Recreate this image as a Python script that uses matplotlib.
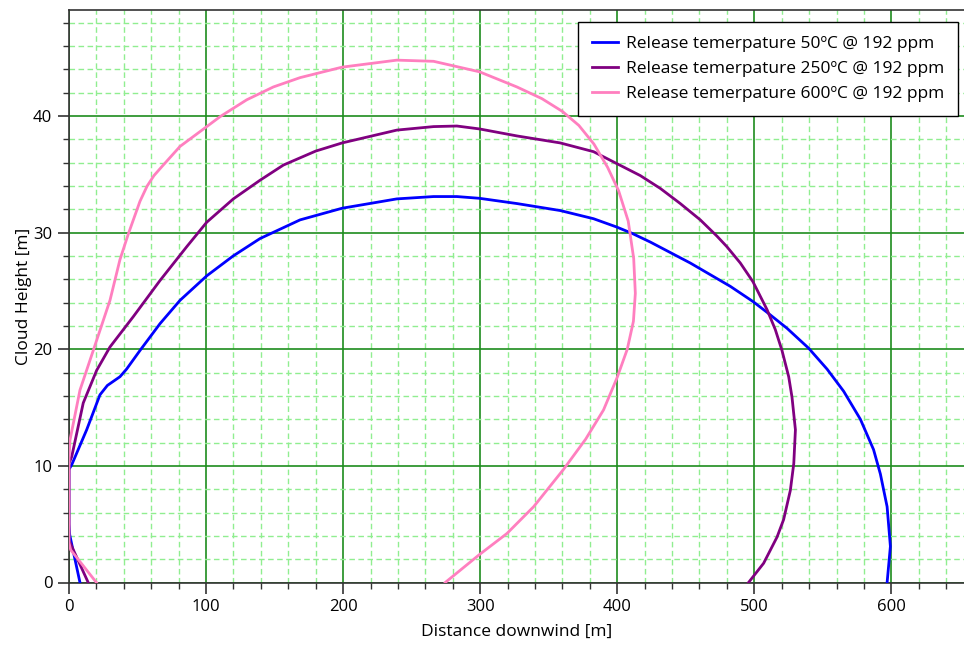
import matplotlib
matplotlib.use('Agg')
import matplotlib.pyplot as plt
from matplotlib.ticker import MultipleLocator

plt.rcParams['font.family'] = ['Open Sans', 'DejaVu Sans']

# cloud height vs distance downwind
x_50 = [8, 0.5, 0, 0, 2, 12.9, 22.6, 28, 37.2, 42, 51.8, 66.4, 81, 100.5, 119.7, 139.4,
        168.6, 199.3, 239.2, 266, 283, 299.5, 326.8, 358.4, 382.7, 399.3, 410.7,
        424.1, 438.7, 453.3, 467.9, 482.5, 499, 509, 523.9, 539.6, 553.1, 565.2,
        577.4, 587, 592, 596.9, 599.3, 596.9]
y_50 = [0, 4.1, 5, 9.7, 10.1, 13.1, 16.1, 16.9, 17.65, 18.3, 19.9, 22.2, 24.2, 26.3, 28.0, 29.5,
        31.1, 32.1, 32.9, 33.1, 33.1, 32.95, 32.5, 31.9, 31.2, 30.5, 29.95,
        29.2, 28.3, 27.4, 26.4, 25.4, 24.1, 23.2, 21.8, 20.1, 18.3, 16.4,
        14.0, 11.4, 9.3, 6.5, 3.1, 0]

x_250 = [14, 2, 0, 0, 2, 10.4, 20.2, 29.9, 46.9, 66.4, 85.9, 100.5, 119.9, 139.4,
         156.4, 180, 199.3, 239.2, 266, 283, 299.5, 326.8, 358.4, 382.7, 399.3,
         416.8, 431.4, 446, 460.6, 472.8, 480, 489.8, 499, 509.3, 515.3, 520.2,
         525.1, 527.5, 530, 528.8, 526.3, 521.4, 516.6, 506.8, 495.8]
y_250 = [0, 3.1, 3.6, 10.2, 10.8, 15.4, 18.2, 20.2, 22.8, 25.9, 28.8, 30.9, 32.9, 34.5,
         35.8, 37.0, 37.7, 38.8, 39.1, 39.15, 38.9, 38.3, 37.7, 36.95, 35.95,
         34.9, 33.8, 32.5, 31.1, 29.7, 28.8, 27.4, 25.8, 23.4, 21.7, 19.9,
         17.65, 15.9, 13.1, 10.2, 7.9, 5.4, 3.9, 1.65, 0]

x_600 = [20, 1.2, 0, 0, 0.7, 8, 17.7, 29.9, 37.2, 43.3, 51.8, 57, 62, 68, 81, 100.5,
         110.2, 129.7, 149.1, 168.6, 199.3, 239.2, 266, 299.5, 326.8, 345, 360,
         372, 383, 393, 401, 408, 412, 413.2, 411.8, 407.3, 400, 390, 377,
         360.8, 339, 319.5, 299.5, 274.5]
y_600 = [0, 2.8, 3.4, 10.5, 12.2, 16.5, 19.9, 24.2, 27.7, 29.9, 32.7, 34.0, 34.9, 35.7, 37.4, 39.1,
         39.95, 41.4, 42.5, 43.3, 44.2, 44.8, 44.7, 43.8, 42.5, 41.5, 40.4,
         39.2, 37.6, 35.6, 33.6, 31.0, 27.8, 24.8, 22.4, 20.0, 17.6, 14.8, 12.3,
         9.7, 6.5, 4.2, 2.4, 0]

labels = ['Release temerpature 50ºC @ 192 ppm',
          'Release temerpature 250ºC @ 192 ppm',
          'Release temerpature 600ºC @ 192 ppm']
colors = ['#0000ff', '#800080', '#ff7fbf']

fig = plt.figure(figsize=(9.64, 6.49), dpi=100)
ax = fig.add_axes([69 / 964, (649 - 582.5) / 649, 1 - 69 / 964, (582.5 - 10) / 649])

for xs, ys, lab, c in zip([x_50, x_250, x_600], [y_50, y_250, y_600], labels, colors):
    ax.plot(xs, ys, color=c, lw=2, label=lab, solid_joinstyle='round', zorder=3)

ax.set_xlim(0, 653)
ax.set_ylim(0, 49.1)
ax.xaxis.set_major_locator(MultipleLocator(100))
ax.xaxis.set_minor_locator(MultipleLocator(20))
ax.yaxis.set_major_locator(MultipleLocator(10))
ax.yaxis.set_minor_locator(MultipleLocator(2))

ax.grid(which='minor', color='#90ee90', ls=(0, (4, 2.5)), lw=1)
ax.grid(which='major', color='#1e8c1e', ls='-', lw=1.2)
ax.set_axisbelow(True)

ax.spines['right'].set_visible(False)
for side in ['left', 'bottom', 'top']:
    ax.spines[side].set_color('#333333')
    ax.spines[side].set_linewidth(1.2)

ax.tick_params(which='major', direction='out', length=8, width=1.2, color='#333333',
               labelsize=12, pad=4)
ax.tick_params(which='minor', direction='out', length=4, width=1, color='#333333')

ax.set_xlabel('Distance downwind [m]', fontsize=12.5, labelpad=6)
ax.set_ylabel('Cloud Height [m]', fontsize=12.5, labelpad=1)

leg = ax.legend(loc='upper right', bbox_to_anchor=(958 / 964, 1 - 22 / 649),
                bbox_transform=fig.transFigure, borderaxespad=0, fontsize=12.5,
                fancybox=False, framealpha=1, edgecolor='black', handlelength=1.5,
                handletextpad=0.45, labelspacing=0.52, borderpad=0.8)
leg.get_frame().set_linewidth(1)

fig.savefig('out.png', dpi=100)
